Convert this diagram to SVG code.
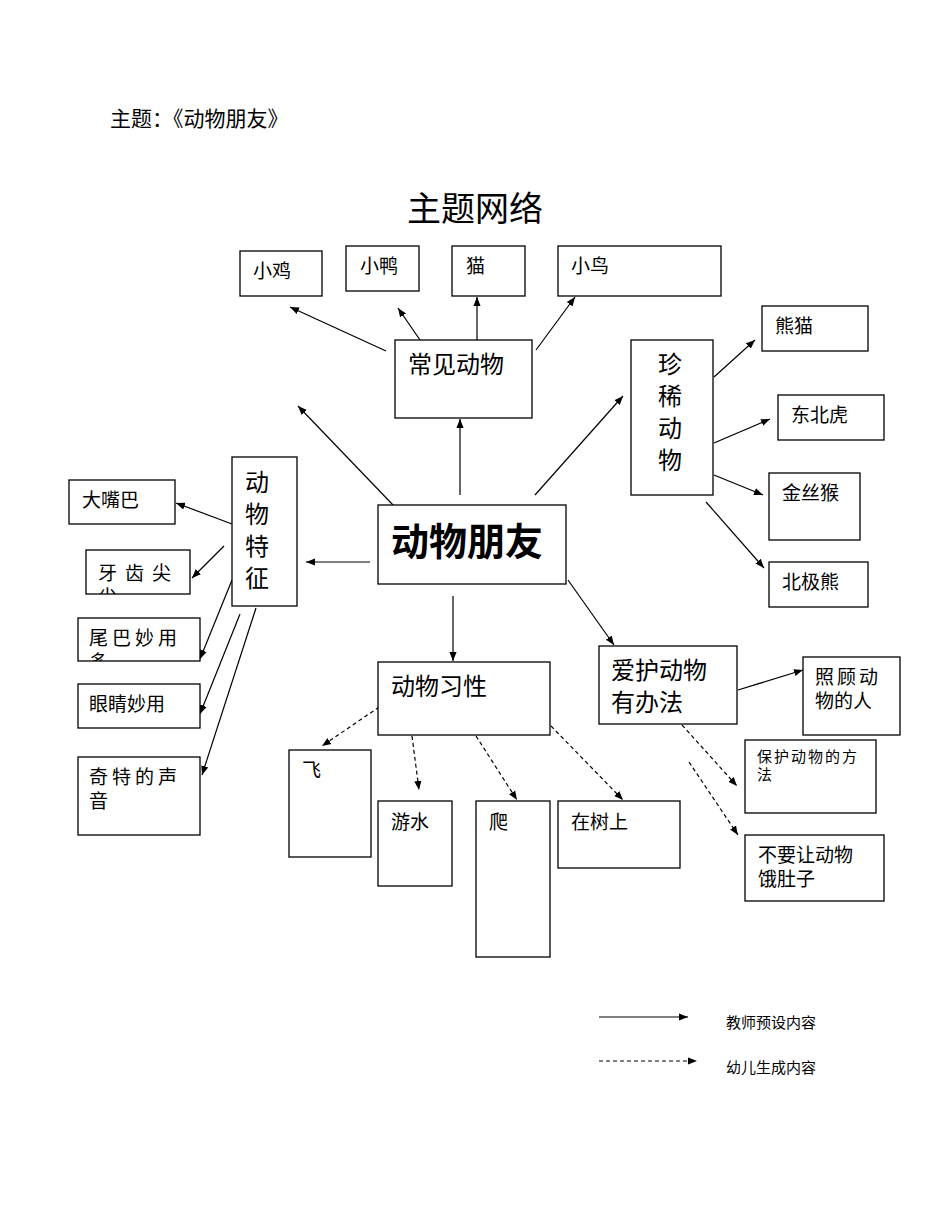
<svg xmlns="http://www.w3.org/2000/svg" width="950" height="1230" viewBox="0 0 950 1230">
<style>
text{font-family:"Liberation Sans","Noto Sans CJK SC",sans-serif;fill:#000}
.b{fill:#fff;stroke:#000;stroke-width:1.3}
.l{stroke:#000;stroke-width:1.2;fill:none;marker-end:url(#a)}
.d{stroke:#000;stroke-width:1.2;fill:none;stroke-dasharray:4,3;marker-end:url(#a)}
.t18{font-size:19px}.t24{font-size:24px}
</style>
<defs>
<marker id="a" viewBox="0 0 10 10" refX="10" refY="5" markerWidth="9" markerHeight="9" orient="auto" markerUnits="userSpaceOnUse"><path d="M0,1L10,5L0,9z"/></marker>
<clipPath id="c1"><rect x="86" y="550" width="104" height="44"/></clipPath>
<clipPath id="c2"><rect x="78" y="618" width="122" height="43"/></clipPath>
</defs>
<text x="110" y="126" font-size="21">主题：《动物朋友》</text>
<text x="475" y="221" font-size="34" text-anchor="middle">主题网络</text>
<g id="connectors">
<line class="l" x1="386" y1="351" x2="290" y2="307"/>
<line class="l" x1="420" y1="340" x2="398" y2="308"/>
<line class="l" x1="477" y1="340" x2="477" y2="297"/>
<line class="l" x1="536" y1="350" x2="575" y2="297"/>
<line class="l" x1="393" y1="505" x2="298" y2="406"/>
<line class="l" x1="460" y1="495" x2="460" y2="419"/>
<line class="l" x1="535" y1="495" x2="623" y2="396"/>
<line class="l" x1="714" y1="377" x2="755" y2="340"/>
<line class="l" x1="714" y1="443" x2="770" y2="419"/>
<line class="l" x1="714" y1="475" x2="763" y2="495"/>
<line class="l" x1="706" y1="502" x2="764" y2="568"/>
<line class="l" x1="370" y1="562" x2="306" y2="562"/>
<line class="l" x1="232" y1="524" x2="176" y2="503"/>
<line class="l" x1="224" y1="546" x2="192" y2="578"/>
<line class="l" x1="232" y1="580" x2="200" y2="659"/>
<line class="l" x1="240" y1="614" x2="200" y2="714"/>
<line class="l" x1="256" y1="608" x2="202" y2="775"/>
<line class="l" x1="453" y1="596" x2="453" y2="661"/>
<line class="l" x1="568" y1="580" x2="614" y2="645"/>
<line class="l" x1="738" y1="690" x2="803" y2="670"/>
<line class="d" x1="385" y1="703" x2="322" y2="746"/>
<line class="d" x1="412" y1="736" x2="419" y2="790"/>
<line class="d" x1="476" y1="736" x2="517" y2="800"/>
<line class="d" x1="551" y1="726" x2="623" y2="800"/>
<line class="d" x1="682" y1="725" x2="737" y2="786"/>
<line class="d" x1="689" y1="762" x2="738" y2="835"/>
<line class="l" x1="599" y1="1017" x2="688" y2="1017"/>
<line class="d" x1="599" y1="1061" x2="697" y2="1061"/>
</g>
<g id="n-xiaoji"><rect class="b" x="240" y="251" width="82" height="45"/><text class="t18" x="253" y="278">小鸡</text></g>
<g id="n-xiaoya"><rect class="b" x="346" y="246" width="73" height="45"/><text class="t18" x="360" y="273">小鸭</text></g>
<g id="n-mao"><rect class="b" x="452" y="246" width="73" height="50"/><text class="t18" x="466" y="273">猫</text></g>
<g id="n-xiaoniao"><rect class="b" x="558" y="246" width="163" height="50"/><text class="t18" x="571" y="273">小鸟</text></g>
<g id="n-changjian"><rect class="b" x="395" y="340" width="137" height="78"/><text class="t24" x="408" y="373">常见动物</text></g>
<g id="n-zhenxi"><rect class="b" x="631" y="340" width="82" height="155"/><text class="t24" x="658" y="373">珍</text><text class="t24" x="658" y="405">稀</text><text class="t24" x="658" y="437">动</text><text class="t24" x="658" y="469">物</text></g>
<g id="n-xiongmao"><rect class="b" x="762" y="306" width="106" height="45"/><text class="t18" x="775" y="333">熊猫</text></g>
<g id="n-dongbeihu"><rect class="b" x="778" y="395" width="106" height="45"/><text class="t18" x="791" y="422">东北虎</text></g>
<g id="n-jinsihou"><rect class="b" x="769" y="473" width="91" height="67"/><text class="t18" x="782" y="500">金丝猴</text></g>
<g id="n-beijixiong"><rect class="b" x="769" y="562" width="99" height="45"/><text class="t18" x="782" y="589">北极熊</text></g>
<g id="n-center"><rect class="b" x="378" y="505" width="188" height="79"/><text x="391" y="555" font-size="38" font-weight="bold">动物朋友</text></g>
<g id="n-tezheng"><rect class="b" x="232" y="457" width="65" height="149"/><text class="t24" x="245" y="491">动</text><text class="t24" x="245" y="523">物</text><text class="t24" x="245" y="555">特</text><text class="t24" x="245" y="587">征</text></g>
<g id="n-dazuiba"><rect class="b" x="69" y="480" width="106" height="44"/><text class="t18" x="82" y="507">大嘴巴</text></g>
<g id="n-yachi"><rect class="b" x="86" y="550" width="104" height="44"/><g clip-path="url(#c1)"><text class="t18" x="98" y="580" letter-spacing="8">牙齿尖</text><text class="t18" x="98" y="604">尖</text></g></g>
<g id="n-weiba"><rect class="b" x="78" y="618" width="122" height="43"/><g clip-path="url(#c2)"><text class="t18" x="89" y="645" letter-spacing="4">尾巴妙用</text><text class="t18" x="89" y="669">多</text></g></g>
<g id="n-yanjing"><rect class="b" x="78" y="684" width="122" height="44"/><text class="t18" x="89" y="711">眼睛妙用</text></g>
<g id="n-shengyin"><rect class="b" x="78" y="757" width="122" height="78"/><text class="t18" x="89" y="784" letter-spacing="4">奇特的声</text><text class="t18" x="89" y="808">音</text></g>
<g id="n-xixing"><rect class="b" x="378" y="662" width="172" height="73"/><text class="t24" x="391" y="695">动物习性</text></g>
<g id="n-fei"><rect class="b" x="289" y="750" width="82" height="107"/><text class="t18" x="302" y="777">飞</text></g>
<g id="n-youshui"><rect class="b" x="378" y="801" width="74" height="85"/><text class="t18" x="391" y="829">游水</text></g>
<g id="n-pa"><rect class="b" x="476" y="801" width="74" height="156"/><text class="t18" x="489" y="829">爬</text></g>
<g id="n-shushang"><rect class="b" x="558" y="801" width="122" height="67"/><text class="t18" x="571" y="829">在树上</text></g>
<g id="n-aihu"><rect class="b" x="599" y="646" width="138" height="78"/><text class="t24" x="611" y="679">爱护动物</text><text class="t24" x="611" y="711">有办法</text></g>
<g id="n-zhaogu"><rect class="b" x="803" y="657" width="97" height="78"/><text class="t18" x="815" y="684" letter-spacing="3">照顾动</text><text class="t18" x="815" y="708">物的人</text></g>
<g id="n-fangfa"><rect class="b" x="745" y="740" width="131" height="73"/><text x="757" y="762" font-size="15" letter-spacing="2">保护动物的方</text><text x="757" y="780" font-size="15">法</text></g>
<g id="n-egu"><rect class="b" x="745" y="835" width="139" height="66"/><text class="t18" x="758" y="862">不要让动物</text><text class="t18" x="758" y="886">饿肚子</text></g>
<text x="726" y="1028" font-size="15">教师预设内容</text>
<text x="726" y="1073" font-size="15">幼儿生成内容</text>
</svg>
